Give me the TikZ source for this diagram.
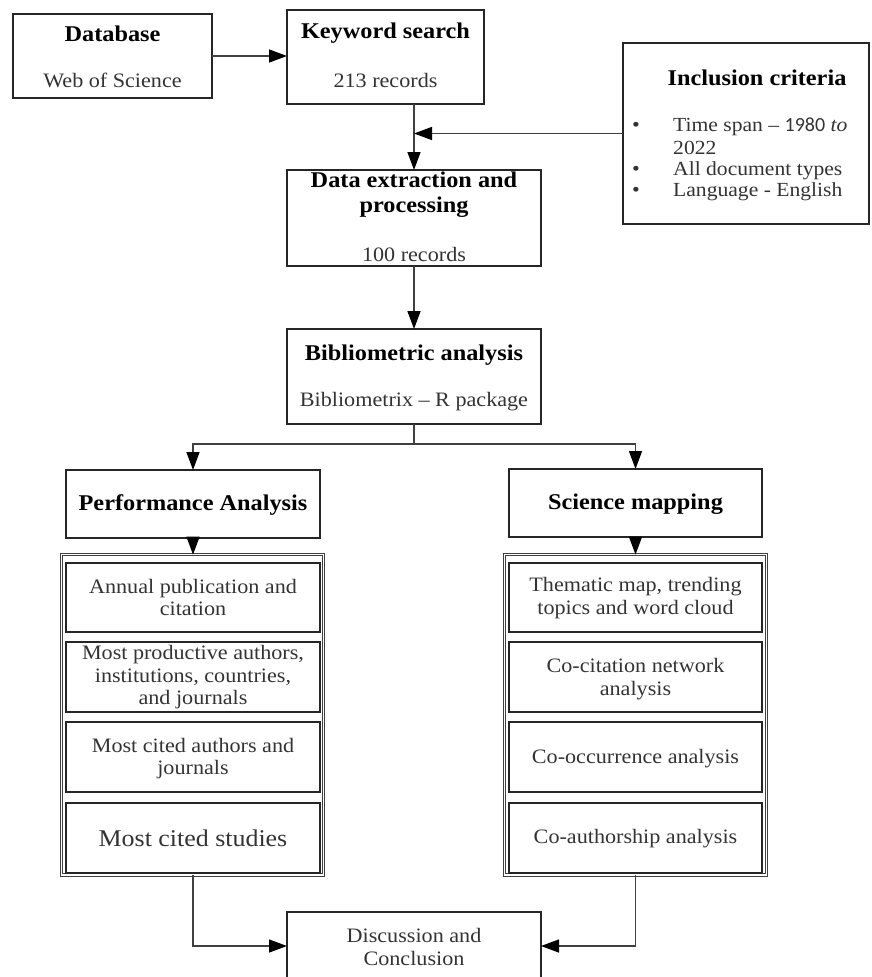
\documentclass[tikz,border=0pt]{standalone}
\usepackage{fontspec}
\setmainfont[FakeStretch=1.08]{Liberation Serif}
\setsansfont{Carlito}
\usetikzlibrary{arrows.meta}
\begin{document}
\begin{tikzpicture}[x=1pt,y=-1pt,
 box/.style={draw=black!85, line width=1.2pt, rectangle, inner sep=0pt, outer sep=0pt},
 grp/.style={draw=black!75, double, double distance=1.4pt, line width=0.9pt, rectangle, inner sep=0pt, outer sep=0pt},
 bt/.style={font=\fontsize{22.5}{25}\selectfont\bfseries, text=black, inner sep=0pt, align=center},
 rt/.style={font=\fontsize{20.5}{22.5}\selectfont, text=black!80, inner sep=0pt, align=center},
 lt/.style={font=\fontsize{20}{22}\selectfont, text=black!80, inner sep=0pt, anchor=west},
 arr/.style={line width=1.4pt, draw=black!75, -{Triangle[length=18pt,width=13pt,color=black]}},
 ln/.style={line width=1.4pt, draw=black!75}]
\useasboundingbox (0,0) rectangle (872,977);

% top row
\node[box, minimum width=199pt, minimum height=84pt] (db) at (112.5,56) {};
\node[bt] (dbt) at (112.5,34) {Database};
\node[rt] (dbs) at (112.5,80) {Web of Science};

\node[box, minimum width=197pt, minimum height=94pt] (kw) at (385.5,57) {};
\node[bt] (kwt) at (385.5,33) {Keyword search};
\node[rt] (kws) at (385.5,80) {213 records};

% inclusion criteria
\node[box, minimum width=246pt, minimum height=181pt] (inc) at (746,133.5) {};
\node[bt] (inct) at (757,78) {Inclusion criteria};
\node[rt] (b1) at (636,127) {\textbullet};
\node[rt] (b2) at (636,171) {\textbullet};
\node[rt] (b3) at (636,192) {\textbullet};
\node[lt] (i1) at (673,127) {Time span -- {\sffamily 1980} \textit{to}};
\node[lt] (i2) at (673,148) {2022};
\node[lt] (i3) at (673,171) {All document types};
\node[lt] (i4) at (673,192) {Language - English};

% middle column
\node[box, minimum width=254pt, minimum height=96pt] (de) at (414,218) {};
\node[bt] (det) at (414,194.5) {Data extraction and\\processing};
\node[rt] (des) at (414,254) {100 records};

\node[box, minimum width=254pt, minimum height=95pt] (bib) at (414,376.5) {};
\node[bt] (bibt) at (414,355) {Bibliometric analysis};
\node[rt] (bibs) at (414,402) {Bibliometrix -- R package};

% branches
\node[box, minimum width=254pt, minimum height=68pt] (pa) at (193,504) {};
\node[bt] (pat) at (193,505) {Performance Analysis};
\node[box, minimum width=253pt, minimum height=68pt] (sm) at (635.5,503) {};
\node[bt] (smt) at (635.5,504) {Science mapping};

% left group
\node[grp, minimum width=261.8pt, minimum height=320.3pt] (lg) at (192.5,714.75) {};
\node[box, minimum width=254pt, minimum height=69pt] (l1) at (193,597.5) {};
\node[rt] (l1t) at (193,597.5) {Annual publication and\\citation};
\node[box, minimum width=254pt, minimum height=70pt] (l2) at (193,677) {};
\node[rt] (l2t) at (193,677.5) {Most productive authors,\\institutions, countries,\\and journals};
\node[box, minimum width=254pt, minimum height=70pt] (l3) at (193,757) {};
\node[rt] (l3t) at (193,758.5) {Most cited authors and\\journals};
\node[box, minimum width=254pt, minimum height=70pt] (l4) at (193,838) {};
\node[rt, font=\fontsize{24}{26}\selectfont] (l4t) at (193,838) {Most cited studies};

% right group
\node[grp, minimum width=261.8pt, minimum height=320.3pt] (rg) at (635.5,714.75) {};
\node[box, minimum width=253pt, minimum height=69pt] (r1) at (635.5,597.5) {};
\node[rt] (r1t) at (635.5,598) {Thematic map, trending\\topics and word cloud};
\node[box, minimum width=253pt, minimum height=70pt] (r2) at (635.5,677) {};
\node[rt] (r2t) at (635.5,679) {Co-citation network\\analysis};
\node[box, minimum width=253pt, minimum height=70pt] (r3) at (635.5,757) {};
\node[rt] (r3t) at (635.5,759) {Co-occurrence analysis};
\node[box, minimum width=253pt, minimum height=70pt] (r4) at (635.5,838) {};
\node[rt] (r4t) at (635.5,839) {Co-authorship analysis};

% discussion
\node[minimum width=254pt, minimum height=68pt, inner sep=0pt, outer sep=0pt] (dc) at (414,946) {};
\draw[box] (dc.south west) -- (dc.north west) -- (dc.north east) -- (dc.south east);
\node[rt] (dct) at (414,947) {Discussion and\\Conclusion};

% connectors
\draw[arr] (db.east) -- (db.east -| kw.west);
\draw[arr] (kw.south -| de.north) -- (de.north);
\draw[arr] (inc.west) -- (inc.west -| de.north);
\draw[arr] (de.south) -- (bib.north);
\coordinate (split) at (414,444);
\draw[ln] (bib.south) -- (split);
\draw[arr] (split) -| (pa.north);
\draw[arr] (split) -| (sm.north);
\draw[arr] (pa.south) -- (pa.south |- lg.north);
\draw[arr] (sm.south) -- (sm.south |- rg.north);
\draw[arr] (pa.south |- lg.south) |- (dc.west);
\draw[arr] (sm.south |- rg.south) |- (dc.east);
\end{tikzpicture}
\end{document}
